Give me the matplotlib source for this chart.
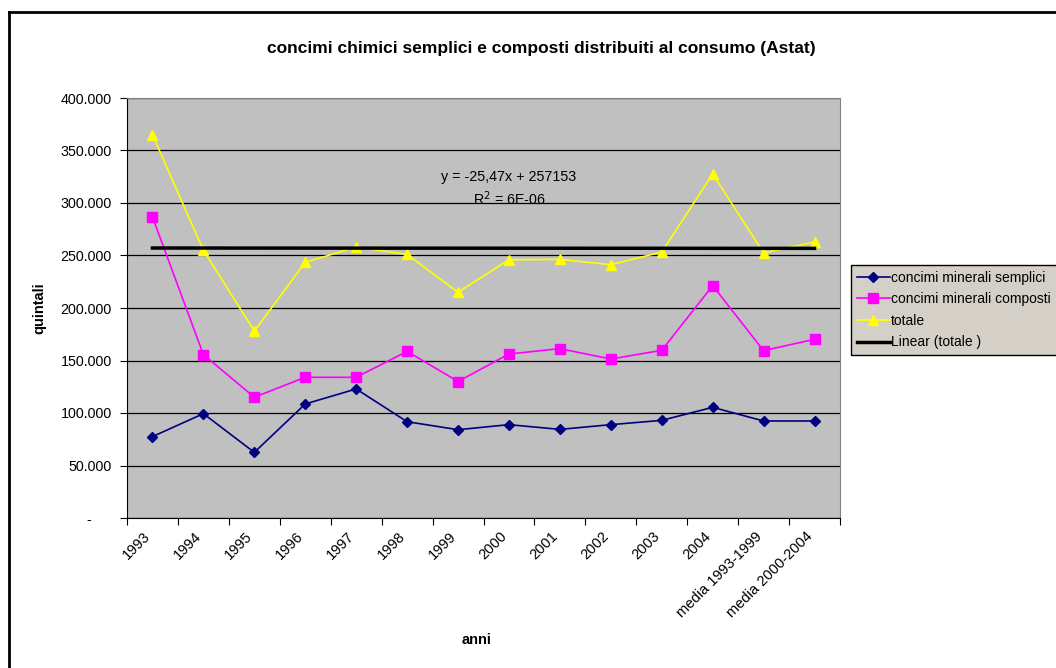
import numpy as np
import matplotlib
matplotlib.use("Agg")
import matplotlib.pyplot as plt
from matplotlib.lines import Line2D
from matplotlib.ticker import FuncFormatter
from matplotlib.transforms import ScaledTranslation

plt.rcParams['font.family'] = ['Liberation Sans', 'DejaVu Sans']

# data (quintali)
categories = ['1993', '1994', '1995', '1996', '1997', '1998', '1999', '2000',
              '2001', '2002', '2003', '2004', 'media 1993-1999', 'media 2000-2004']
semplici = [77500, 99400, 62500, 108600, 122900, 91700, 84100, 88900,
            84400, 88900, 93000, 105400, 92400, 92400]
composti = [286700, 155600, 115000, 134000, 134000, 158700, 130000, 156200,
            161300, 151400, 159700, 221300, 159400, 170200]
totale = [365000, 255000, 178000, 243500, 258000, 251000, 215000, 246000,
          246300, 241300, 253300, 327600, 252400, 262900]
trend_slope = -25.47
trend_intercept = 257153

W, H = 1056, 668
fig = plt.figure(figsize=(W / 100, H / 100), dpi=100)

# outer chart border (only left and top are visible)
fig.add_artist(Line2D([9 / W, 9 / W], [0, 1 - 12 / H], transform=fig.transFigure,
                      color='black', lw=2))
fig.add_artist(Line2D([9 / W, 1], [1 - 12 / H, 1 - 12 / H], transform=fig.transFigure,
                      color='black', lw=2))

ax = fig.add_axes([127 / W, (H - 518) / H, (840 - 127) / W, 420 / H])
ax.set_facecolor('#c0c0c0')

x = np.arange(len(categories))
ax.plot(x, semplici, color='#000080', marker='D', markersize=5, lw=1.2,
        label='concimi minerali semplici')
ax.plot(x, composti, color='#ff00ff', marker='s', markersize=7, lw=1.2,
        label='concimi minerali composti')
ax.plot(x, totale, color='#ffff00', marker='^', markersize=7, lw=1.2,
        label='totale')
trend = trend_slope * (x + 1) + trend_intercept
ax.plot(x, trend, color='black', lw=2.5, label='Linear (totale )')

ax.text(7.0, 325000, 'y = -25,47x + 257153', ha='center', va='center', fontsize=10.3)
ax.text(7.0, 304000, 'R$^2$ = 6E-06', ha='center', va='center', fontsize=10.3)

ax.set_xlim(-0.5, len(categories) - 0.5)
ax.set_ylim(0, 400000)
ax.set_yticks(np.arange(0, 400001, 50000))
ax.yaxis.set_major_formatter(FuncFormatter(
    lambda v, p: '-     ' if v == 0 else f'{v:,.0f}'.replace(',', '.')))
ax.grid(axis='y', color='black', lw=0.9)
ax.set_axisbelow(True)

# category ticks at the boundaries, labels rotated under each category
ax.set_xticks(np.arange(len(categories) + 1) - 0.5)
ax.set_xticklabels([])
ax.tick_params(axis='x', length=5, direction='out', color='black')
lbl_trans = ax.get_xaxis_transform() + ScaledTranslation(-4 / 100, -16 / 100, fig.dpi_scale_trans)
for i, c in enumerate(categories):
    ax.text(i, 0, c, transform=lbl_trans, rotation=45, ha='right', va='center',
            rotation_mode='anchor', fontsize=10.5)
ax.tick_params(axis='y', length=5, direction='out', labelsize=10.3, pad=6)

for s in ['top', 'right']:
    ax.spines[s].set_color('#808080')
for s in ['left', 'bottom']:
    ax.spines[s].set_color('black')

ax.set_ylabel('quintali', fontsize=10.5, fontweight='bold', labelpad=10)
fig.text(477 / W, 1 - 640 / H, 'anni', ha='center', va='center',
         fontsize=10.5, fontweight='bold')
fig.text(541 / W, 1 - 48 / H,
         'concimi chimici semplici e composti distribuiti al consumo (Astat)',
         ha='center', va='center', fontsize=12.5, fontweight='bold')

leg = ax.legend(loc='upper left', bbox_to_anchor=(851 / W, 1 - 265 / H),
                bbox_transform=fig.transFigure, fontsize=10.0, frameon=True,
                fancybox=False, edgecolor='black', facecolor='#d4d0c8',
                framealpha=1, handlelength=2.4, handletextpad=0.1,
                labelspacing=0.55, borderpad=0.4, borderaxespad=0)
leg.get_frame().set_linewidth(1.0)

fig.savefig('out.png', dpi=100)
